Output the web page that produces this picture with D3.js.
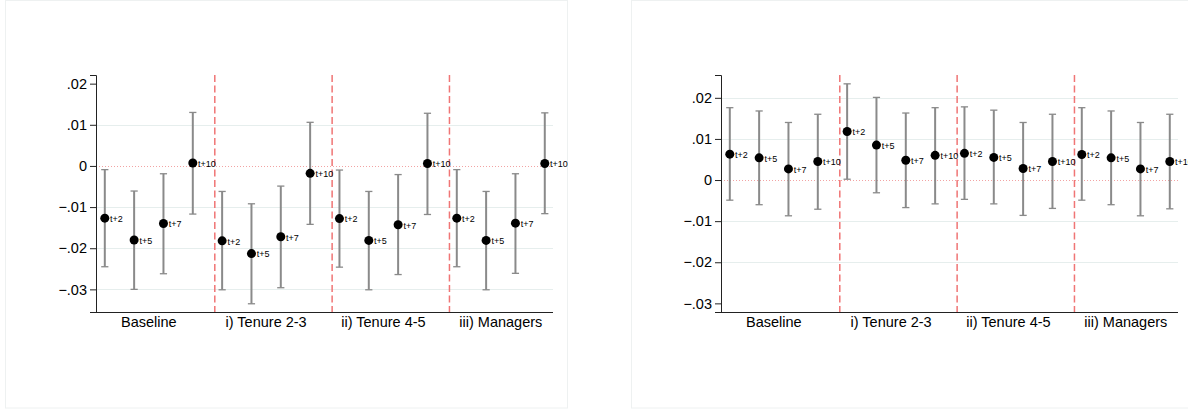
<!DOCTYPE html>
<html>
<head>
<meta charset="utf-8">
<script src="https://cdn.jsdelivr.net/npm/d3@7"></script>
<style>
    body { margin: 0; background: #ffffff; }
    text { font-family: "Liberation Sans", Arial, Helvetica, sans-serif; }
</style>
</head>
<body>
<div id="chart"></div>
<script>
// Categories and horizons
var groups = ["Baseline", "i) Tenure 2-3", "ii) Tenure 4-5", "iii) Managers"];
var horizons = ["t+2", "t+5", "t+7", "t+10"];

// Left panel estimates and confidence bounds (4 groups x 4 horizons)
var leftEst = [-0.0127, -0.0180, -0.0140, 0.0007,
               -0.0182, -0.0213, -0.0172, -0.0018,
               -0.0128, -0.0181, -0.0143, 0.0006,
               -0.0127, -0.0181, -0.0139, 0.0006];
var leftHi = [-0.0009, -0.0061, -0.0019, 0.0130,
              -0.0062, -0.0092, -0.0049, 0.0106,
              -0.0010, -0.0062, -0.0021, 0.0128,
              -0.0009, -0.0062, -0.0019, 0.0129];
var leftLo = [-0.0245, -0.0300, -0.0262, -0.0117,
              -0.0301, -0.0335, -0.0296, -0.0142,
              -0.0246, -0.0301, -0.0264, -0.0118,
              -0.0245, -0.0301, -0.0261, -0.0116];

// Right panel estimates and confidence bounds
var rightEst = [0.0063, 0.0054, 0.0027, 0.0045,
                0.0118, 0.0085, 0.0048, 0.0060,
                0.0065, 0.0055, 0.0028, 0.0045,
                0.0062, 0.0054, 0.0027, 0.0045];
var rightHi = [0.0176, 0.0168, 0.0140, 0.0160,
               0.0234, 0.0201, 0.0163, 0.0176,
               0.0178, 0.0170, 0.0140, 0.0160,
               0.0176, 0.0168, 0.0140, 0.0160];
var rightLo = [-0.0049, -0.0060, -0.0087, -0.0071,
               0.0002, -0.0031, -0.0067, -0.0058,
               -0.0047, -0.0058, -0.0086, -0.0069,
               -0.0049, -0.0060, -0.0087, -0.0070];

// Tick values
var yTicks = [0.02, 0.01, 0, -0.01, -0.02, -0.03];
var leftGrid = [0.01, -0.01, -0.02, -0.03];
var rightGrid = [0.02, 0.01, -0.01, -0.02];
var dividers = [3.75, 7.75, 11.75];
var labelPos = [1.5, 5.5, 9.5, 13.5];

var svgWidth = 1188;
var svgHeight = 409;

var svg = d3.select("#chart")
    .append("svg")
    .attr("width", svgWidth)
    .attr("height", svgHeight);

// Stata-like tick format: drop the leading zero
function stataFmt(v) {
    if (v === 0) return "0";
    return d3.format(".2f")(v).replace("0.", ".");
}

function drawPanel(cfg) {
    // Light frame around the panel
    svg.append("rect")
        .attr("x", cfg.frame[0] + 0.5)
        .attr("y", 0.5)
        .attr("width", cfg.frame[1] - cfg.frame[0])
        .attr("height", svgHeight - 1.5)
        .attr("fill", "none")
        .attr("stroke", "#eef1f1");

    var x = d3.scaleLinear()
        .domain([-0.3, 15.28])
        .range([cfg.left, cfg.left + 457]);

    var y = d3.scaleLinear()
        .domain(cfg.yDomain)
        .range([312, 75]);

    var g = svg.append("g");

    // Gridlines
    g.selectAll(".grid")
        .data(cfg.grid)
        .enter()
        .append("line")
        .attr("x1", x.range()[0])
        .attr("x2", x.range()[1])
        .attr("y1", d => Math.round(y(d)) + 0.5)
        .attr("y2", d => Math.round(y(d)) + 0.5)
        .attr("stroke", "#e6eeed")
        .attr("stroke-width", 1);

    // Zero reference line (dotted)
    g.append("line")
        .attr("x1", x.range()[0])
        .attr("x2", x.range()[1])
        .attr("y1", Math.round(y(0)) + 0.5)
        .attr("y2", Math.round(y(0)) + 0.5)
        .attr("stroke", "#f2a3a3")
        .attr("stroke-width", 1)
        .attr("stroke-dasharray", "1,2");

    // Group dividers (dashed red)
    g.selectAll(".divider")
        .data(dividers)
        .enter()
        .append("line")
        .attr("x1", d => x(d))
        .attr("x2", d => x(d))
        .attr("y1", 75)
        .attr("y2", 312)
        .attr("stroke", "#f07575")
        .attr("stroke-width", 1.5)
        .attr("stroke-dasharray", "7,3.5");

    // Y axis
    var leftAxis = d3.axisLeft(y)
        .tickValues(yTicks)
        .tickFormat(stataFmt)
        .tickSize(6)
        .tickPadding(3);

    var yAxis = g.append("g")
        .attr("transform", `translate(${x.range()[0]}, 0)`)
        .call(leftAxis);
    yAxis.select(".domain").attr("stroke", "#222222");
    yAxis.selectAll(".tick line").attr("stroke", "#222222");
    yAxis.selectAll(".tick text")
        .attr("font-size", 14.5)
        .attr("fill", "#000000")
        .style("font-family", "'Liberation Sans', Arial, sans-serif");

    // X axis line
    g.append("line")
        .attr("x1", x.range()[0])
        .attr("x2", x.range()[1])
        .attr("y1", 312.5)
        .attr("y2", 312.5)
        .attr("stroke", "#222222");

    // Category labels
    g.selectAll(".cat")
        .data(groups)
        .enter()
        .append("text")
        .attr("x", (d, i) => x(labelPos[i]))
        .attr("y", 327)
        .attr("text-anchor", "middle")
        .attr("font-size", 14.5)
        .attr("fill", "#000000")
        .text(d => d);

    var pts = cfg.est.map(function(v, i) {
        return { i: i, est: v, lo: cfg.lo[i], hi: cfg.hi[i], lab: horizons[i % 4] };
    });

    // Confidence interval bars
    g.selectAll(".ci")
        .data(pts)
        .enter()
        .append("line")
        .attr("x1", d => x(d.i))
        .attr("x2", d => x(d.i))
        .attr("y1", d => y(d.lo))
        .attr("y2", d => y(d.hi))
        .attr("stroke", "#8a8a8a")
        .attr("stroke-width", 2);

    // Caps
    ["lo", "hi"].forEach(function(k) {
        g.selectAll(".cap-" + k)
            .data(pts)
            .enter()
            .append("line")
            .attr("x1", d => x(d.i) - 3.6)
            .attr("x2", d => x(d.i) + 3.6)
            .attr("y1", d => y(d[k]))
            .attr("y2", d => y(d[k]))
            .attr("stroke", "#8a8a8a")
            .attr("stroke-width", 1.3);
    });

    // Point estimates
    g.selectAll(".pt")
        .data(pts)
        .enter()
        .append("circle")
        .attr("cx", d => x(d.i))
        .attr("cy", d => y(d.est))
        .attr("r", 4.5)
        .attr("fill", "#000000");

    // Horizon labels
    g.selectAll(".lab")
        .data(pts)
        .enter()
        .append("text")
        .attr("x", d => x(d.i) + 5.3)
        .attr("y", d => y(d.est) + 3.8)
        .attr("font-size", 9)
        .attr("fill", "#000000")
        .text(d => d.lab);
}

drawPanel({
    frame: [5, 567],
    left: 96,
    yDomain: [-0.0355, 0.0221],
    grid: leftGrid,
    est: leftEst, lo: leftLo, hi: leftHi
});

drawPanel({
    frame: [631, 1195],
    left: 721,
    yDomain: [-0.0321, 0.02555],
    grid: rightGrid,
    est: rightEst, lo: rightLo, hi: rightHi
});
</script>
</body>
</html>
